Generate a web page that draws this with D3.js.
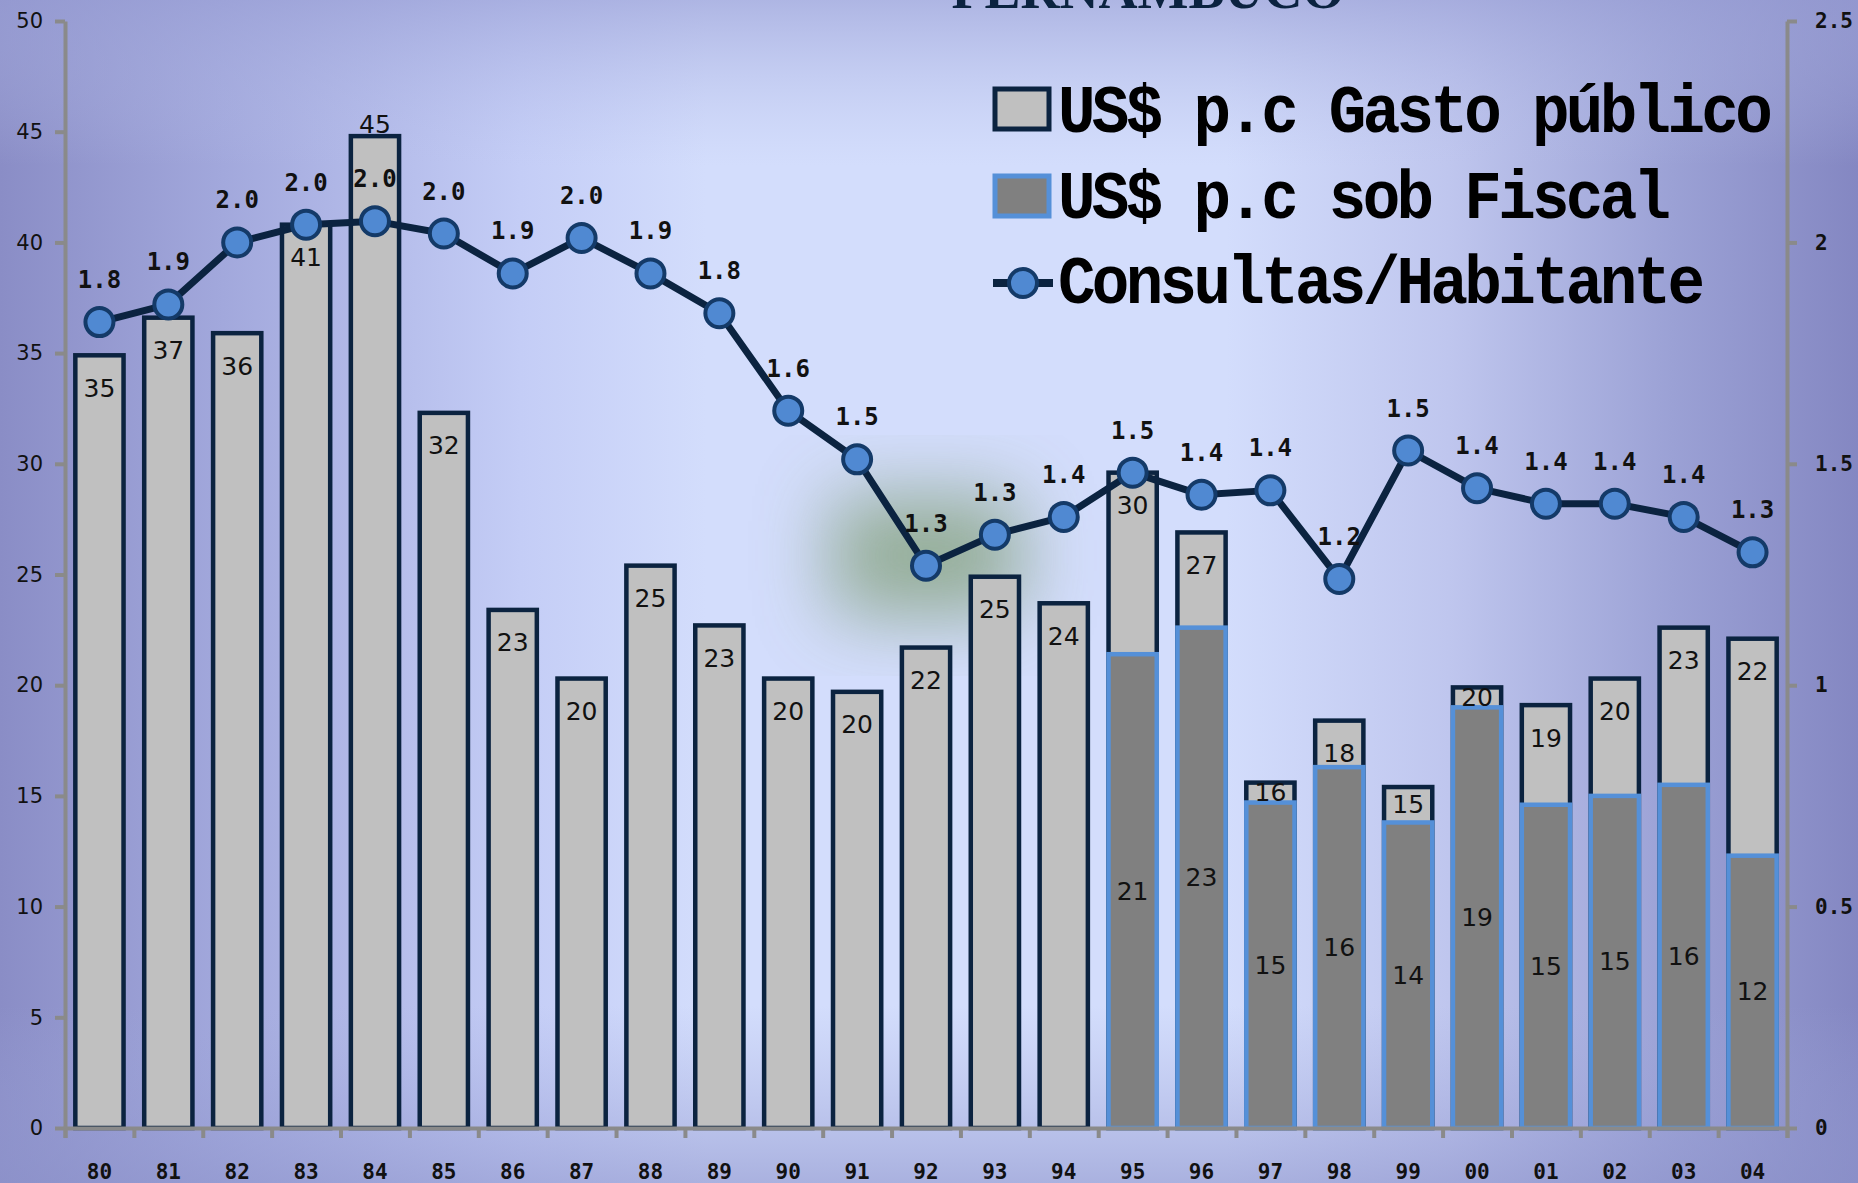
<!DOCTYPE html>
<html>
<head>
<meta charset="utf-8">
<script src="https://cdn.jsdelivr.net/npm/d3@7"></script>
<style>
  body { margin: 0; overflow: hidden; }
  svg { display: block; }
</style>
</head>
<body>
<div id="chart"></div>
<script>
// data
const years = ['80','81','82','83','84','85','86','87','88','89','90','91','92','93','94',
    '95','96','97','98','99','00','01','02','03','04'];
const gastoPublico = [34.9, 36.6, 35.9, 40.8, 44.8, 32.3, 23.4, 20.3, 25.4, 22.7, 20.3, 19.7, 21.7,
    24.9, 23.7, 29.6, 26.9, 15.6, 18.4, 15.4, 19.9, 19.1, 20.3, 22.6, 22.1];
const sobFiscal = [null, null, null, null, null, null, null, null, null, null, null, null, null,
    null, null, 21.4, 22.6, 14.7, 16.3, 13.8, 19.0, 14.6, 15.0, 15.5, 12.3];
const consultas = [1.82, 1.86, 2.00, 2.04, 2.048, 2.02, 1.93, 2.01, 1.93, 1.84, 1.62, 1.51, 1.27,
    1.34, 1.38, 1.48, 1.43, 1.44, 1.24, 1.53, 1.445, 1.41, 1.41, 1.38, 1.30];
const leftTicks = [0, 5, 10, 15, 20, 25, 30, 35, 40, 45, 50];
const rightTicks = [0, 0.5, 1, 1.5, 2, 2.5];
const legendLabels = ['US$ p.c Gasto público', 'US$ p.c sob Fiscal', 'Consultas/Habitante'];
const titleText = 'PERNAMBUCO';

const W = 1858, H = 1183;
const m = {left: 65, right: 1787, top: 21, bottom: 1128};
const navy = '#0b2340';

const svg = d3.select('#chart').append('svg')
    .attr('width', W).attr('height', H);

const defs = svg.append('defs');
const hg = defs.append('linearGradient').attr('id', 'bgH');
[[0, '#8a8dc6'], [0.12, '#a2a8dc'], [0.28, '#c4cdf6'], [0.38, '#d3ddfc'], [0.66, '#d3ddfc'],
    [0.78, '#bfc6ee'], [0.9, '#9ba1d5'], [1, '#8487c2']]
    .forEach(s => hg.append('stop').attr('offset', s[0]).attr('stop-color', s[1]));
const vg = defs.append('linearGradient').attr('id', 'bgV')
    .attr('x1', 0).attr('y1', 0).attr('x2', 0).attr('y2', 1);
[[0, '#9aa0d6', 0.65], [0.14, '#b8c0ea', 0], [0.85, '#a0a8dc', 0], [1, '#8e94cc', 0.6]]
    .forEach(s => vg.append('stop').attr('offset', s[0]).attr('stop-color', s[1]).attr('stop-opacity', s[2]));
defs.append('filter').attr('id', 'blur')
    .attr('x', '-50%').attr('y', '-50%').attr('width', '200%').attr('height', '200%')
    .append('feGaussianBlur').attr('stdDeviation', 38);

svg.append('rect').attr('width', W).attr('height', H).attr('fill', 'url(#bgH)');
svg.append('rect').attr('width', W).attr('height', H).attr('fill', 'url(#bgV)');

// scales
const x = d3.scaleBand().domain(years).range([m.left, m.right]).paddingInner(0.3).paddingOuter(0.15);
const y = d3.scaleLinear().domain([0, 50]).range([m.bottom, m.top]);
const y2 = d3.scaleLinear().domain([0, 2.5]).range([m.bottom, m.top]);
const cx = d => x(d) + x.bandwidth() / 2;

// greenish smudge behind the dip of the line
svg.append('rect')
    .attr('x', cx('92') - 95).attr('y', y2(1.27) - 70)
    .attr('width', 190).attr('height', 120)
    .attr('fill', '#7f9d74').attr('opacity', 0.75)
    .attr('filter', 'url(#blur)');

// title, mostly cut off at the top as in the original
svg.append('text')
    .attr('x', 1148).attr('y', 8)
    .attr('text-anchor', 'middle')
    .attr('font-family', 'Liberation Serif').attr('font-weight', 'bold')
    .attr('font-size', 54).attr('fill', navy)
    .text(titleText);

const rows = years.map((yr, i) => ({yr, g: gastoPublico[i], f: sobFiscal[i], c: consultas[i]}));

// bars
svg.append('g').selectAll('rect').data(rows).join('rect')
    .attr('x', d => x(d.yr)).attr('width', x.bandwidth())
    .attr('y', d => y(d.g)).attr('height', d => y(0) - y(d.g))
    .attr('fill', '#c0c0c0').attr('stroke', navy).attr('stroke-width', 4.5);
svg.append('g').selectAll('rect').data(rows.filter(d => d.f !== null)).join('rect')
    .attr('x', d => x(d.yr)).attr('width', x.bandwidth())
    .attr('y', d => y(d.f)).attr('height', d => y(0) - y(d.f))
    .attr('fill', '#808080').attr('stroke', '#5590d8').attr('stroke-width', 4.5);

// bar labels
function gastoLabelY(d) {
    let ly = y(d.g) + 33;
    if (d.f !== null && ly > y(d.f) - 12) ly = (y(d.g) + y(d.f)) / 2;
    const lineLabel = y2(d.c) - 42;
    if (Math.abs(ly - lineLabel) < 26) ly = y(d.g) - 12;
    return ly;
}
const barText = g => g
    .attr('text-anchor', 'middle').attr('dominant-baseline', 'central')
    .attr('font-family', 'DejaVu Sans').attr('font-size', 25).attr('fill', '#111');
svg.append('g').call(barText).selectAll('text').data(rows).join('text')
    .attr('x', d => cx(d.yr)).attr('y', gastoLabelY)
    .text(d => Math.round(d.g));
svg.append('g').call(barText).selectAll('text').data(rows.filter(d => d.f !== null)).join('text')
    .attr('x', d => cx(d.yr)).attr('y', d => (y(d.f) + y(0)) / 2)
    .text(d => Math.round(d.f));

// line
svg.append('path').datum(rows)
    .attr('fill', 'none').attr('stroke', navy).attr('stroke-width', 7).attr('stroke-linejoin', 'round')
    .attr('d', d3.line().x(d => cx(d.yr)).y(d => y2(d.c)));
svg.append('g').selectAll('circle').data(rows).join('circle')
    .attr('cx', d => cx(d.yr)).attr('cy', d => y2(d.c)).attr('r', 14)
    .attr('fill', '#5089d2').attr('stroke', '#143a68').attr('stroke-width', 4);
svg.append('g').selectAll('text').data(rows).join('text')
    .attr('x', d => cx(d.yr)).attr('y', d => y2(d.c) - 42)
    .attr('text-anchor', 'middle').attr('dominant-baseline', 'central')
    .attr('font-family', 'DejaVu Sans Mono').attr('font-weight', 'bold')
    .attr('font-size', 24).attr('fill', '#111')
    .text(d => d.c.toFixed(1));

// axes
const axisStyle = g => {
    g.select('.domain').attr('stroke', '#8a8a8a').attr('stroke-width', 4);
    g.selectAll('.tick line').attr('stroke', '#8a8a8a').attr('stroke-width', 4);
    g.selectAll('.tick text').attr('fill', '#111');
};
svg.append('g').attr('transform', `translate(${m.left},0)`)
    .call(d3.axisLeft(y).tickValues(leftTicks).tickSize(10).tickPadding(12).tickSizeOuter(0))
    .call(axisStyle)
    .call(g => g.selectAll('.tick text').attr('font-family', 'DejaVu Sans').attr('font-size', 21));
svg.append('g').attr('transform', `translate(${m.right},0)`)
    .call(d3.axisRight(y2).tickValues(rightTicks).tickSize(10).tickPadding(18).tickSizeOuter(0)
        .tickFormat(d => d))
    .call(axisStyle)
    .call(g => g.selectAll('.tick text').attr('font-family', 'DejaVu Sans Mono')
        .attr('font-weight', 'bold').attr('font-size', 21));
const xb = d3.scaleLinear().domain([0, years.length]).range([m.left, m.right]);
svg.append('g').attr('transform', `translate(0,${m.bottom})`)
    .call(d3.axisBottom(xb).tickValues(d3.range(years.length + 1)).tickSize(10).tickFormat(''))
    .call(axisStyle);
svg.append('g').selectAll('text').data(years).join('text')
    .attr('x', d => cx(d)).attr('y', 1172)
    .attr('text-anchor', 'middle').attr('dominant-baseline', 'central')
    .attr('font-family', 'DejaVu Sans Mono').attr('font-weight', 'bold')
    .attr('font-size', 21).attr('fill', '#111')
    .text(d => d);

// legend
const legend = svg.append('g').attr('transform', 'translate(993,0)');
const rowsY = [132, 218, 303];
legend.append('rect').attr('x', 2).attr('y', 89).attr('width', 54).attr('height', 40)
    .attr('fill', '#c0c0c0').attr('stroke', navy).attr('stroke-width', 5);
legend.append('rect').attr('x', 2).attr('y', 176).attr('width', 54).attr('height', 40)
    .attr('fill', '#808080').attr('stroke', '#5590d8').attr('stroke-width', 5);
legend.append('line').attr('x1', 0).attr('x2', 60).attr('y1', 283).attr('y2', 283)
    .attr('stroke', navy).attr('stroke-width', 8);
legend.append('circle').attr('cx', 30).attr('cy', 283).attr('r', 14)
    .attr('fill', '#5089d2').attr('stroke', '#143a68').attr('stroke-width', 4);
legendLabels.forEach((t, i) => {
    legend.append('g').attr('transform', `translate(65,${rowsY[i]}) scale(0.92,1)`)
        .append('text')
        .attr('font-family', 'Liberation Mono').attr('font-weight', 'bold')
        .attr('font-size', 68).attr('letter-spacing', -4).attr('fill', '#000')
        .text(t);
});
</script>
</body>
</html>
